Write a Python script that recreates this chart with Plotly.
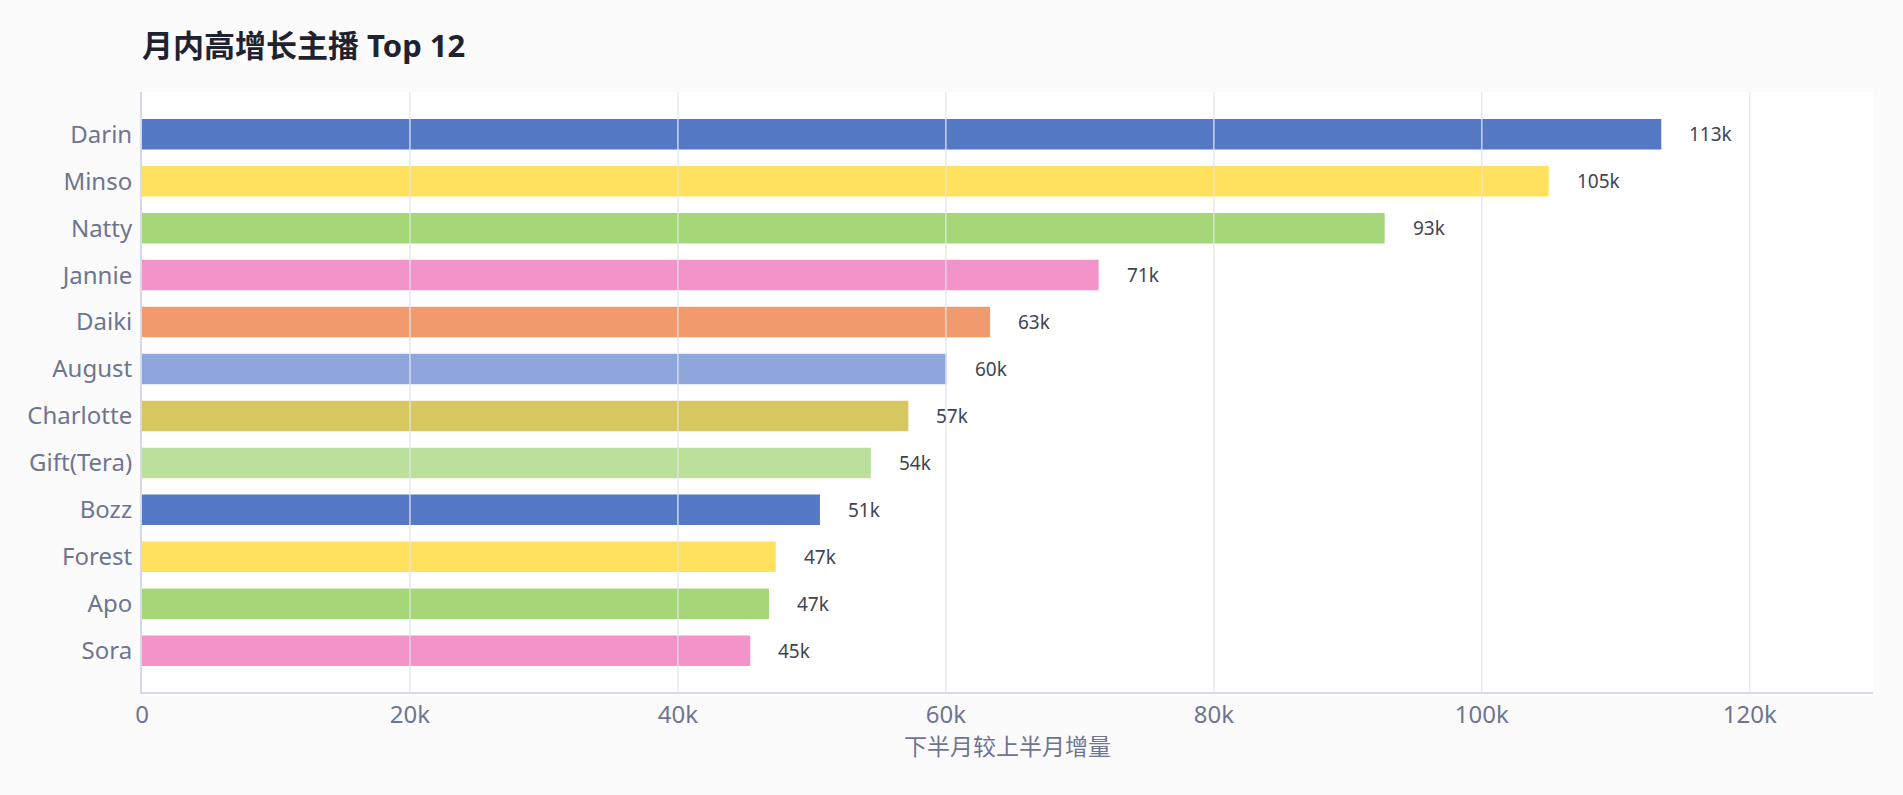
import plotly.graph_objects as go

# 主播 (top to bottom) and their growth
names = ["Darin", "Minso", "Natty", "Jannie", "Daiki", "August",
         "Charlotte", "Gift(Tera)", "Bozz", "Forest", "Apo", "Sora"]
growth = [113400, 105000, 92750, 71400, 63300, 60050,
          57200, 54400, 50600, 47300, 46800, 45400]
palette = ["#5478c4", "#ffe15e", "#a5d677", "#f293ca",
           "#f09a6e", "#8fa6dd", "#d6c760", "#bae09b"]
x_ticks = [0, 20000, 40000, 60000, 80000, 100000, 120000]
x_tick_text = ["0", "20k", "40k", "60k", "80k", "100k", "120k"]

FONT = "Noto Sans, Noto Sans CJK SC, sans-serif"
bar_colors = [palette[i % len(palette)] for i in range(len(names))]
labels = [f"{round(v / 1000)}k" for v in growth]

fig = go.Figure()
fig.add_trace(go.Bar(
    x=growth, y=names, orientation="h",
    marker=dict(color=bar_colors, line=dict(width=0)),
    hoverinfo="x+y",
))

# value labels to the right of each bar
for v, n, t in zip(growth, names, labels):
    fig.add_annotation(x=v, y=n, text=t, showarrow=False,
                       xanchor="left", xshift=26,
                       font=dict(family=FONT, size=19, color="#3f4554"))

# grid lines sit on top of the bars in the original
for v in x_ticks[1:]:
    fig.add_vline(x=v, line=dict(color="rgba(226,228,238,0.85)", width=1.5),
                  layer="above")

fig.update_layout(
    width=1903, height=795,
    margin=dict(l=142, r=30, t=92, b=103),
    paper_bgcolor="#fbfbfb",
    plot_bgcolor="#ffffff",
    bargap=0.35,
    showlegend=False,
    title=dict(text="<b>月内高增长主播 Top 12</b>",
               xref="container", x=142 / 1903, xanchor="left",
               yref="container", y=1 - 46 / 795, yanchor="middle",
               font=dict(family=FONT, size=31, color="#1f2330")),
    font=dict(family=FONT),
)
fig.update_xaxes(
    range=[0, 129200],
    tickvals=x_ticks, ticktext=x_tick_text,
    showgrid=False, zeroline=False,
    showline=True, linecolor="#d5d9e8", linewidth=2,
    ticks="", ticklabelstandoff=0,
    tickfont=dict(family=FONT, size=24, color="#6e7591"),
    title=dict(text="下半月较上半月增量", standoff=7,
               font=dict(family=FONT, size=23, color="#6e7591")),
)
fig.update_yaxes(
    type="category", categoryorder="array", categoryarray=names,
    range=[11.88, -0.9],
    showgrid=False, zeroline=False,
    showline=True, linecolor="#d5d9e8", linewidth=2,
    ticks="", ticklabelstandoff=3,
    tickfont=dict(family=FONT, size=24, color="#6e7591"),
)

# page body margin would otherwise leave a white frame round the figure
fig.write_html("out.html",
               config={"displayModeBar": False},
               post_script="document.body.style.margin='0';"
                           "document.body.style.background='#fbfbfb';")
